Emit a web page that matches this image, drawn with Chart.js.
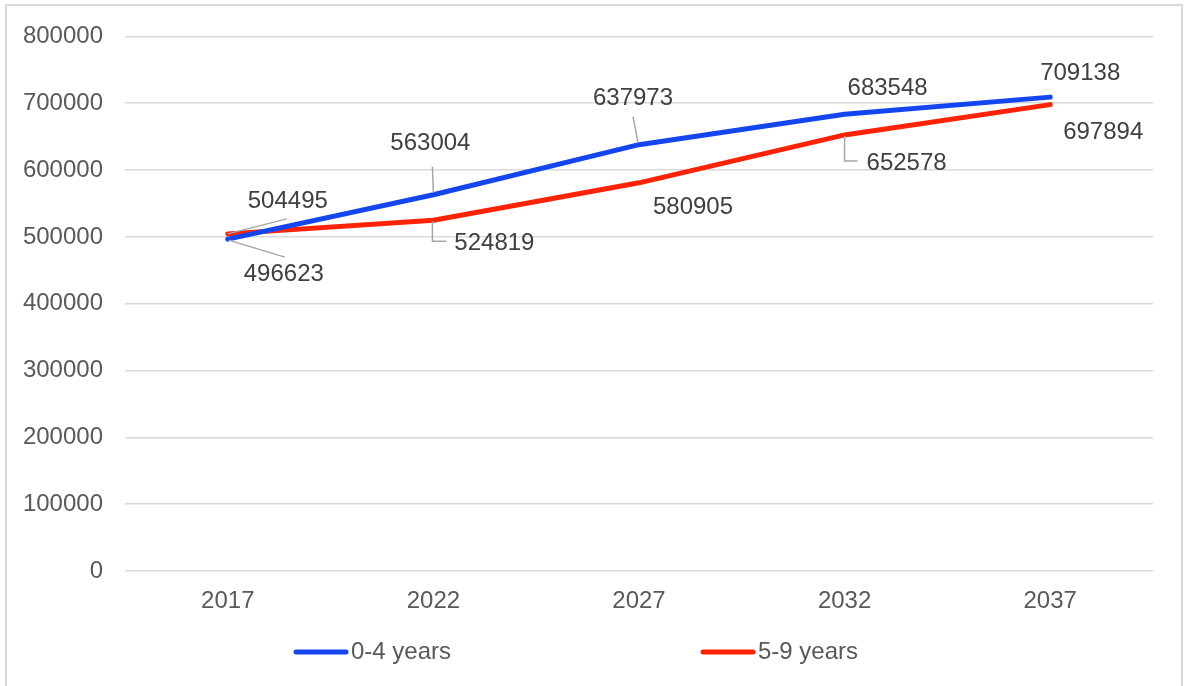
<!DOCTYPE html>
<html>
<head>
<meta charset="utf-8">
<script src="https://cdn.jsdelivr.net/npm/chart.js@4.4.1/dist/chart.umd.min.js"></script>
<style>
  html, body { margin: 0; padding: 0; background: #fff; }
</style>
</head>
<body>
<canvas id="chart" width="1185" height="686"></canvas>
<script>
const years = ['2017', '2022', '2027', '2032', '2037'];
const age0to4 = [496623, 563004, 637973, 683548, 709138];
const age5to9 = [504495, 524819, 580905, 652578, 697894];
const seriesNames = ['0-4 years', '5-9 years'];

const FONT = '"Liberation Sans", Arial, sans-serif';
const FSIZE = 24;

// where each value label sits relative to its point, plus optional leader line
const labelPlace = [
  [
    { dx: 56, dy: 35, lead: [[1, 1], [57, 18]] },
    { dx: -3, dy: -51, lead: [[0, -2], [-1, -28]] },
    { dx: -6, dy: -46, lead: [[-1, -2], [-6, -28]] },
    { dx: 43, dy: -26 },
    { dx: 30, dy: -24 }
  ],
  [
    { dx: 60, dy: -32, lead: [[0, 0], [59, -15]] },
    { dx: 61, dy: 23, lead: [[-1, 1], [-1, 21], [13, 21]] },
    { dx: 54, dy: 25 },
    { dx: 62, dy: 28, lead: [[0, 1], [0, 26], [13, 26]] },
    { dx: 53, dy: 28 }
  ]
];

const frame = {
  id: 'frame',
  beforeDraw(chart) {
    const c = chart.ctx;
    c.save();
    c.strokeStyle = '#d9d9d9';
    c.lineWidth = 2;
    c.strokeRect(6, 5, 1176, 700);
    c.restore();
  }
};

const valueLabels = {
  id: 'valueLabels',
  afterDatasetsDraw(chart) {
    const c = chart.ctx;
    c.save();
    chart.data.datasets.forEach((ds, di) => {
      const meta = chart.getDatasetMeta(di);
      meta.data.forEach((pt, i) => {
        const p = labelPlace[di][i];
        if (p.lead) {
          c.beginPath();
          c.strokeStyle = '#a6a6a6';
          c.lineWidth = 1.5;
          p.lead.forEach((o, k) => {
            if (k == 0) c.moveTo(pt.x + o[0], pt.y + o[1]);
            else c.lineTo(pt.x + o[0], pt.y + o[1]);
          });
          c.stroke();
        }
        c.fillStyle = '#404040';
        c.font = FSIZE + 'px ' + FONT;
        c.textAlign = 'center';
        c.textBaseline = 'middle';
        c.fillText(String(ds.data[i]), pt.x + p.dx, pt.y + p.dy);
      });
    });
    c.restore();
  }
};

const bottomLegend = {
  id: 'bottomLegend',
  afterDraw(chart) {
    const c = chart.ctx;
    const starts = [293, 700];
    const y = 652;
    c.save();
    chart.data.datasets.forEach((ds, i) => {
      const x = starts[i];
      c.beginPath();
      c.strokeStyle = ds.borderColor;
      c.lineWidth = 5;
      c.lineCap = 'round';
      c.moveTo(x + 3, y);
      c.lineTo(x + 53, y);
      c.stroke();
      c.fillStyle = '#595959';
      c.font = FSIZE + 'px ' + FONT;
      c.textAlign = 'left';
      c.textBaseline = 'middle';
      c.fillText(ds.label, x + 58, y);
    });
    c.restore();
  }
};

new Chart(document.getElementById('chart'), {
  type: 'line',
  data: {
    labels: years,
    datasets: [
      {
        label: seriesNames[0],
        data: age0to4,
        borderColor: '#1446f0',
        backgroundColor: '#1446f0',
        borderWidth: 5,
        borderCapStyle: 'round',
        borderJoinStyle: 'round',
        pointRadius: 0,
        tension: 0
      },
      {
        label: seriesNames[1],
        data: age5to9,
        borderColor: '#ff2305',
        backgroundColor: '#ff2305',
        borderWidth: 5,
        borderCapStyle: 'round',
        borderJoinStyle: 'round',
        pointRadius: 0,
        tension: 0
      }
    ]
  },
  options: {
    responsive: false,
    animation: false,
    layout: { padding: { top: 35, right: 32, left: 0, bottom: 65 } },
    plugins: {
      legend: { display: false },
      tooltip: { enabled: false }
    },
    scales: {
      x: {
        offset: true,
        grid: { display: false, drawTicks: false },
        border: { display: false },
        ticks: { color: '#595959', font: { family: FONT, size: FSIZE }, padding: 16 },
        afterFit: (s) => { s.height = 50; }
      },
      y: {
        min: 0,
        max: 800000,
        grid: { color: '#d9d9d9', lineWidth: 1.5, drawTicks: false },
        border: { display: false },
        ticks: {
          stepSize: 100000,
          color: '#595959',
          font: { family: FONT, size: FSIZE },
          padding: 22,
          callback: (v) => String(v)
        },
        afterFit: (s) => { s.width = 125; }
      }
    }
  },
  plugins: [frame, valueLabels, bottomLegend]
});
</script>
</body>
</html>
